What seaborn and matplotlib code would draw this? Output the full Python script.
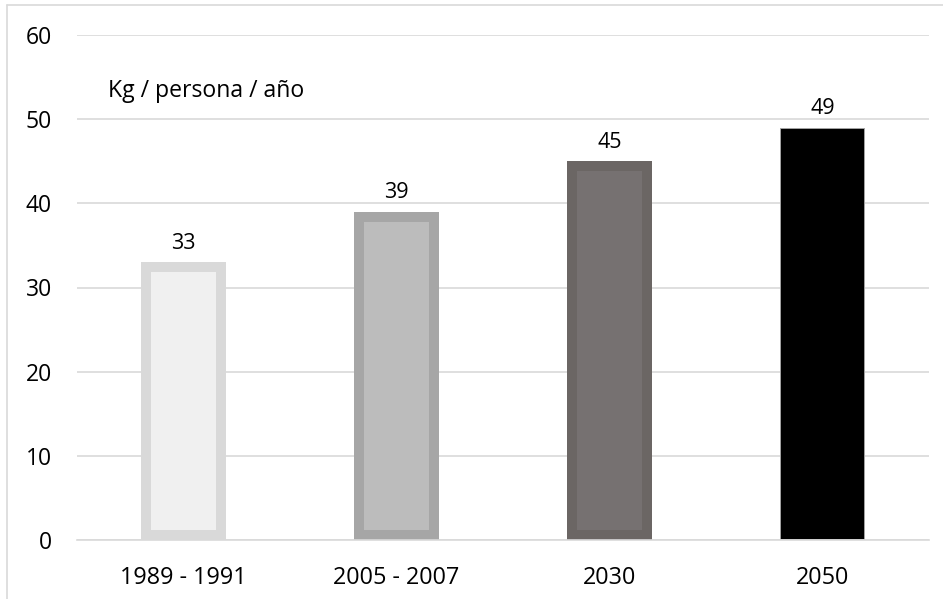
import matplotlib
matplotlib.use("Agg")
import matplotlib.pyplot as plt
from matplotlib.lines import Line2D
import seaborn as sns
import pandas as pd

categories = ["1989 - 1991", "2005 - 2007", "2030", "2050"]
values = [33, 39, 45, 49]
fill_colors = ["#f0f0f0", "#bcbcbc", "#767171", "#000000"]
edge_colors = ["#d9d9d9", "#a6a6a6", "#6b6664", "#a6a6a6"]
unit_label = "Kg / persona / año"

sns.set_theme(style="white")
plt.rcParams['font.family'] = ['Open Sans', 'DejaVu Sans']

df = pd.DataFrame({"cat": categories, "val": values})

fig = plt.figure(figsize=(9.43, 5.99), dpi=100)
ax = fig.add_axes([77/943, 59/599, 852/943, 505/599])

sns.barplot(data=df, x="cat", y="val", hue="cat", palette=fill_colors,
            width=0.40, legend=False, ax=ax, saturation=1)

for i, p in enumerate(ax.patches):
    lw = 14.4 if i < 3 else 1.4
    p.set_edgecolor(edge_colors[i])
    p.set_linewidth(lw)
    p.set_clip_path(p)

for c in ax.containers:
    ax.bar_label(c, padding=6, fontsize=15.5, color="#000000")

ax.set_ylim(0, 60)
ax.set_yticks(range(0, 61, 10))
ax.set_xlim(-0.5, 3.5)
ax.yaxis.grid(True, color="#d9d9d9", linewidth=1.2)
ax.set_axisbelow(True)
for s in ["top", "right", "left"]:
    ax.spines[s].set_visible(False)
ax.spines["bottom"].set_color("#d9d9d9")
ax.spines["bottom"].set_linewidth(1.2)
ax.set_xlabel("")
ax.set_ylabel("")
ax.tick_params(axis="y", length=0, pad=18, labelsize=16.5, labelcolor="#000000")
ax.tick_params(axis="x", length=0, pad=19, labelsize=16.8, labelcolor="#000000")

ax.text(31/852, 53.4, unit_label, fontsize=16.6, color="#000000", ha="left", va="center",
        transform=ax.get_yaxis_transform())

fig.add_artist(Line2D([7/943, 7/943], [0, 1 - 5/599], transform=fig.transFigure,
                      color="#d9d9d9", linewidth=1.2))
fig.add_artist(Line2D([7/943, 1], [1 - 5/599, 1 - 5/599], transform=fig.transFigure,
                      color="#d9d9d9", linewidth=1.2))

fig.savefig("out.png", dpi=100)
